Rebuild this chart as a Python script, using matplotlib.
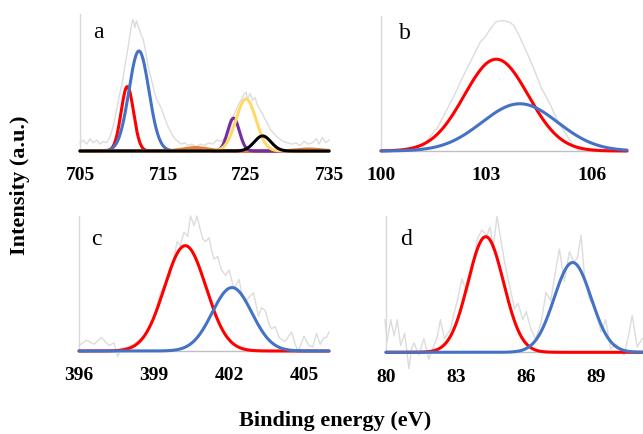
import numpy as np
import matplotlib
matplotlib.use("Agg")
import matplotlib.pyplot as plt

# ---------------- data ----------------
# Panel a (Fe 2p)
a_raw_x = [705.0, 705.4, 705.8, 706.2, 706.6, 707.0, 707.4, 707.8, 708.2, 708.6, 709.0, 709.4, 709.8, 710.1,
           710.4, 710.7, 711.0, 711.2, 711.4, 711.6, 711.8, 712.0, 712.2, 712.4, 712.6, 712.9, 713.2, 713.5,
           713.8, 714.1, 714.4, 714.8, 715.2, 715.6, 716.0, 716.4, 716.8, 717.2, 717.6, 718.0, 718.5, 719.0,
           719.5, 720.0, 720.5, 721.0, 721.5, 722.0, 722.5, 722.9, 723.2, 723.5, 723.8, 724.1, 724.4, 724.7,
           725.0, 725.2, 725.5, 725.8, 726.1, 726.4, 726.7, 727.0, 727.3, 727.6, 727.9, 728.2, 728.6, 729.0,
           729.5, 730.0, 730.5, 731.0, 731.5, 732.0, 732.5, 733.0, 733.5, 733.8, 734.2, 734.6, 735.0]
a_raw_y = [0.06, 0.08, 0.05, 0.09, 0.06, 0.08, 0.05, 0.07, 0.06, 0.10, 0.18, 0.30, 0.42, 0.50,
           0.62, 0.72, 0.84, 0.92, 0.96, 0.90, 0.95, 0.91, 0.88, 0.84, 0.82, 0.73, 0.62, 0.55,
           0.47, 0.40, 0.36, 0.31, 0.24, 0.18, 0.13, 0.09, 0.07, 0.05, 0.06, 0.04, 0.05, 0.03,
           0.05, 0.04, 0.06, 0.05, 0.08, 0.07, 0.10, 0.13, 0.18, 0.26, 0.30, 0.34, 0.37, 0.41,
           0.43, 0.38, 0.42, 0.37, 0.39, 0.33, 0.30, 0.27, 0.23, 0.20, 0.16, 0.14, 0.11, 0.09,
           0.07, 0.06, 0.05, 0.06, 0.04, 0.07, 0.05, 0.06, 0.09, 0.05, 0.10, 0.06, 0.08]
a_centers = [710.7, 712.1, 718.9, 732.5, 723.5, 725.0, 727.0]
a_heights = [0.47, 0.73, 0.025, 0.015, 0.24, 0.38, 0.11]
a_sigmas = [0.75, 1.2, 1.5, 1.5, 0.7, 1.2, 1.0]
a_colors = ["#ff0000", "#4472c4", "#ed7d31", "#ed7d31", "#7030a0", "#ffd966", "#000000"]

# Panel b (Si 2p)
b_raw_x = [101.1, 101.25, 101.4, 101.6, 101.88, 102.1, 102.35, 102.6, 102.83, 102.95, 103.0, 103.1, 103.26,
           103.4, 103.5, 103.65, 103.78, 103.92, 104.06, 104.2, 104.35, 104.54, 104.7, 104.83, 105.0, 105.1,
           105.3, 105.45, 105.6, 105.75]
b_raw_y = [0.0, 0.05, 0.11, 0.17, 0.31, 0.42, 0.56, 0.69, 0.81, 0.84, 0.86, 0.90, 0.955,
           0.965, 0.965, 0.955, 0.93, 0.86, 0.78, 0.70, 0.61, 0.48, 0.40, 0.335, 0.24, 0.19,
           0.11, 0.05, 0.01, 0.0]
b_centers = [103.28, 103.95]
b_heights = [0.68, 0.35]
b_sigmas = [0.91, 1.08]
b_colors = ["#ff0000", "#4472c4"]

# Panel c (N 1s)
c_raw_x = [396.0, 396.3, 396.6, 396.9, 397.2, 397.4, 397.55, 397.7, 397.95, 398.2, 398.4, 398.6, 398.8, 399.0,
           399.15, 399.27, 399.45, 399.66, 399.8, 399.93, 400.05, 400.2, 400.35, 400.46, 400.6, 400.72, 400.85,
           400.95, 401.07, 401.2, 401.3, 401.4, 401.55, 401.7, 401.86, 402.0, 402.2, 402.4, 402.52, 402.65,
           402.8, 402.98, 403.18, 403.3, 403.45, 403.6, 403.7, 403.85, 404.0, 404.24, 404.35, 404.5, 404.65,
           404.77, 404.9, 405.0, 405.2, 405.35, 405.5, 405.65, 405.8, 405.9, 406.0]
c_raw_y = [0.04, 0.08, 0.05, 0.10, 0.04, 0.06, -0.04, 0.02, 0.03, 0.05, 0.08, 0.11, 0.16, 0.24,
           0.36, 0.44, 0.50, 0.56, 0.70, 0.81, 0.78, 0.88, 0.85, 1.0, 0.93, 1.0, 0.90,
           0.83, 0.81, 0.84, 0.75, 0.68, 0.70, 0.60, 0.56, 0.60, 0.46, 0.53, 0.42, 0.36,
           0.40, 0.43, 0.26, 0.32, 0.30, 0.20, 0.165, 0.18, 0.10, 0.07, 0.10, 0.14, 0.05,
           -0.005, 0.06, 0.11, 0.04, 0.03, 0.13, 0.05, 0.10, 0.10, 0.14]
c_centers = [400.25, 402.12]
c_heights = [0.78, 0.47]
c_sigmas = [0.83, 0.79]
c_colors = ["#ff0000", "#4472c4"]

# Panel d (Au 4f)
d_raw_x = [79.95, 80.05, 80.2, 80.35, 80.48, 80.63, 80.8, 80.98, 81.1, 81.2, 81.4, 81.62, 81.83, 82.05, 82.2,
           82.33, 82.5, 82.76, 82.9, 83.04, 83.25, 83.47, 83.68, 83.9, 84.1, 84.32, 84.45, 84.6, 84.75, 84.96,
           85.1, 85.29, 85.5, 85.65, 85.86, 86.0, 86.2, 86.4, 86.64, 86.85, 87.05, 87.27, 87.42, 87.63, 87.85,
           88.05, 88.2, 88.35, 88.49, 88.7, 88.95, 89.2, 89.4, 89.62, 89.85, 90.0, 90.19, 90.35, 90.54, 90.75,
           90.97]
d_raw_y = [0.24, 0.08, 0.24, 0.12, 0.24, 0.05, 0.14, -0.12, 0.03, 0.07, -0.02, 0.10, -0.05, 0.05, 0.12,
           0.24, 0.10, 0.17, 0.28, 0.37, 0.54, 0.44, 0.59, 0.83, 0.90, 0.86, 0.92, 0.78, 1.0, 0.78,
           0.64, 0.49, 0.32, 0.36, 0.24, 0.30, 0.17, 0.10, 0.22, 0.44, 0.38, 0.61, 0.76, 0.52, 0.74,
           0.66, 0.70, 0.86, 0.57, 0.39, 0.33, 0.15, 0.24, 0.025, 0.06, 0.03, -0.02, 0.10, 0.27, 0.04,
           0.10]
d_centers = [84.27, 87.99]
d_heights = [0.85, 0.66]
d_sigmas = [0.76, 0.79]
d_colors = ["#ff0000", "#4472c4"]

panels = [
    dict(label="a", raw_x=a_raw_x, raw_y=a_raw_y, centers=a_centers, heights=a_heights, sigmas=a_sigmas,
         colors=a_colors, xlim=(705, 735), ticks=[705, 715, 725, 735],
         rect=[80 / 643, 1 - 152 / 435, 249 / 643, 137 / 435], lab=(0.072, 0.87)),
    dict(label="b", raw_x=b_raw_x, raw_y=b_raw_y, centers=b_centers, heights=b_heights, sigmas=b_sigmas,
         colors=b_colors, xlim=(100, 107), ticks=[100, 103, 106],
         rect=[381 / 643, 1 - 152 / 435, 246 / 643, 135 / 435], lab=(0.098, 0.88)),
    dict(label="c", raw_x=c_raw_x, raw_y=c_raw_y, centers=c_centers, heights=c_heights, sigmas=c_sigmas,
         colors=c_colors, xlim=(396, 406), ticks=[396, 399, 402, 405],
         rect=[79 / 643, 1 - 352 / 435, 250 / 643, 135 / 435], lab=(0.071, 0.83)),
    dict(label="d", raw_x=d_raw_x, raw_y=d_raw_y, centers=d_centers, heights=d_heights, sigmas=d_sigmas,
         colors=d_colors, xlim=(80, 91), ticks=[80, 83, 86, 89],
         rect=[386 / 643, 1 - 353.3 / 435, 257 / 643, 136 / 435], lab=(0.08, 0.84)),
]

SERIF = ["Liberation Serif", "DejaVu Serif"]

fig = plt.figure(figsize=(6.43, 4.35), dpi=100)
fig.patch.set_facecolor("white")

for p in panels:
    ax = fig.add_axes(p["rect"])
    ax.set_xlim(*p["xlim"])
    ax.set_ylim(0, 1.0)
    ax.plot(p["raw_x"], p["raw_y"], color="#dcdcdc", lw=1.0, clip_on=False, zorder=1)
    xs = np.linspace(p["xlim"][0], p["xlim"][1], 800)
    for c, h, s, col in zip(p["centers"], p["heights"], p["sigmas"], p["colors"]):
        ys = h * np.exp(-0.5 * ((xs - c) / s) ** 2)
        ax.plot(xs, ys, color=col, lw=2.2, solid_capstyle="round", zorder=3 if col != "#000000" else 4,
                clip_on=False)
    for side in ["top", "right"]:
        ax.spines[side].set_visible(False)
    ax.spines["left"].set_color("#d9d9d9")
    ax.spines["left"].set_linewidth(1.0)
    ax.spines["bottom"].set_color("#bfbfbf")
    ax.spines["bottom"].set_linewidth(1.0)
    ax.set_yticks([])
    ax.set_xticks(p["ticks"])
    ax.set_xticklabels([str(t) for t in p["ticks"]], fontfamily=SERIF, fontweight="bold", fontsize=14)
    ax.tick_params(axis="x", length=0, pad=11)
    ax.patch.set_alpha(0)
    ax.text(p["lab"][0], p["lab"][1], p["label"], transform=ax.transAxes, fontfamily=SERIF,
            fontsize=17, ha="center", va="center", zorder=5)

fig.text(20 / 643, 1 - 185 / 435, "Intensity (a.u.)", rotation=90, ha="center", va="center",
         fontfamily=SERIF, fontweight="bold", fontsize=16)
fig.text(335 / 643, 1 - 421 / 435, "Binding energy (eV)", ha="center", va="center",
         fontfamily=SERIF, fontweight="bold", fontsize=16)

fig.savefig("out.png", dpi=100, facecolor="white")
